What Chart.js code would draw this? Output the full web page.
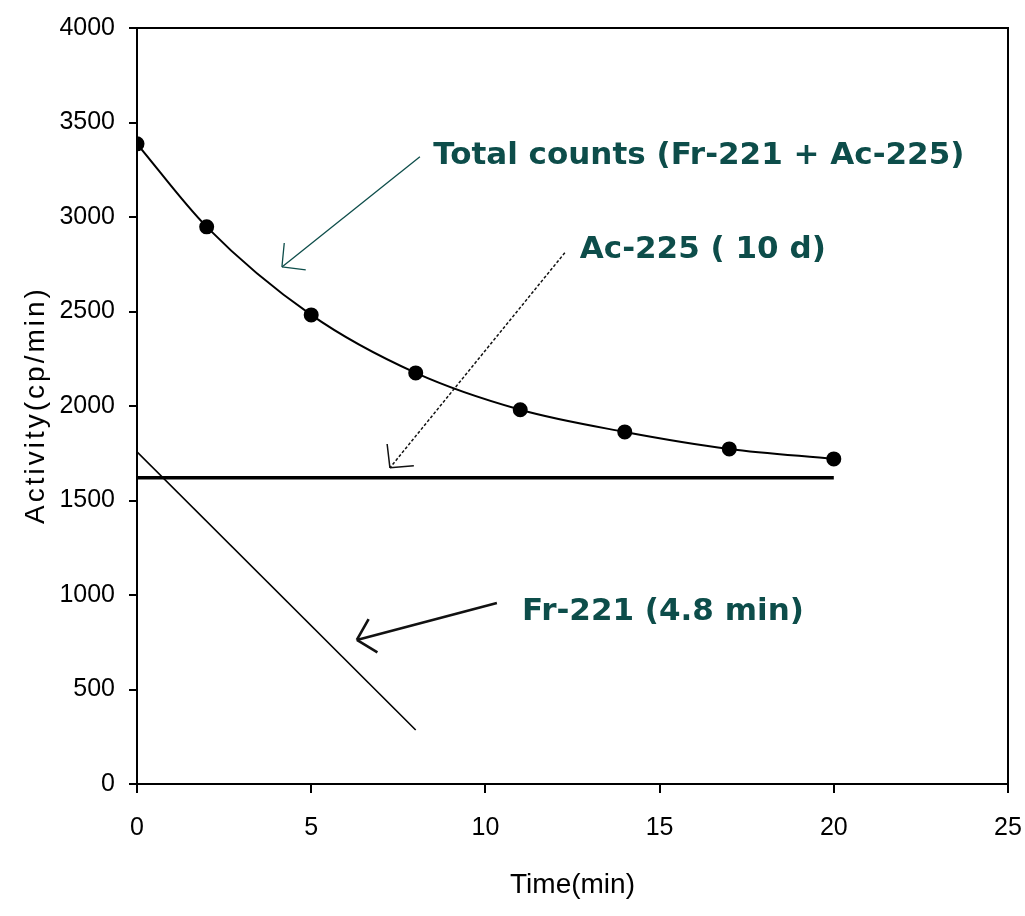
<!DOCTYPE html>
<html>
<head>
<meta charset="utf-8">
<script src="https://cdn.jsdelivr.net/npm/chart.js@4.4.1/dist/chart.umd.min.js"></script>
<style>
  html, body { margin: 0; padding: 0; background: #fff; }
  #wrap { width: 1025px; height: 916px; }
</style>
</head>
<body>
<div id="wrap"><canvas id="chart" width="1025" height="916"></canvas></div>
<script>
// measured points (time in min, activity in cp/min)
const times = [0, 2, 5, 8, 11, 14, 17, 20];
const totalCounts = [3387, 2948, 2482, 2175, 1980, 1863, 1773, 1720];

const acTimes = [0, 20];
const acCounts = [1620, 1620];

const frTimes = [0, 8];
const frCounts = [1757, 286];

const xTicks = [0, 5, 10, 15, 20, 25];
const yTicks = [0, 500, 1000, 1500, 2000, 2500, 3000, 3500, 4000];

const teal = '#0d4d4a';

// callouts, anchored in data units
const notes = [
    { text: 'Total counts (Fr-221 + Ac-225)', at: [8.5, 3324], from: [8.12, 3319], to: [4.16, 2736], color: teal, width: 1.3, dash: [] },
    { text: 'Ac-225 ( 10 d)', at: [12.71, 2826], from: [12.28, 2811], to: [7.26, 1673], color: '#111', width: 1.5, dash: [3, 2] },
    { text: 'Fr-221 (4.8 min)', at: [11.05, 910], from: [10.33, 958], to: [6.31, 762], color: '#111', width: 2.6, dash: [] }
];

const toPoints = (xs, ys) => xs.map((x, i) => ({ x: x, y: ys[i] }));

const tickFont = { family: "'Liberation Sans', Arial, sans-serif", size: 25 };

const calloutPlugin = {
    id: 'callouts',
    afterDatasetsDraw(chart) {
        const { ctx, chartArea, scales } = chart;
        const sx = scales.x, sy = scales.y;

        // frame on top and right
        ctx.save();
        ctx.strokeStyle = '#000';
        ctx.lineWidth = 2;
        ctx.beginPath();
        ctx.moveTo(chartArea.left, chartArea.top);
        ctx.lineTo(chartArea.right, chartArea.top);
        ctx.lineTo(chartArea.right, chartArea.bottom);
        ctx.stroke();
        ctx.restore();

        notes.forEach(n => {
            const x1 = sx.getPixelForValue(n.from[0]), y1 = sy.getPixelForValue(n.from[1]);
            const x2 = sx.getPixelForValue(n.to[0]), y2 = sy.getPixelForValue(n.to[1]);
            const ang = Math.atan2(y1 - y2, x1 - x2);
            ctx.save();
            ctx.strokeStyle = n.color;
            ctx.lineWidth = n.width;
            ctx.setLineDash(n.dash);
            ctx.beginPath();
            ctx.moveTo(x1, y1);
            ctx.lineTo(x2, y2);
            ctx.stroke();
            ctx.setLineDash([]);
            ctx.beginPath();
            [-0.8, 0.8].forEach(d => {
                ctx.moveTo(x2, y2);
                ctx.lineTo(x2 + 24 * Math.cos(ang + d), y2 + 24 * Math.sin(ang + d));
            });
            ctx.stroke();

            ctx.fillStyle = teal;
            ctx.font = "bold 31px 'DejaVu Sans', sans-serif";
            ctx.textAlign = 'left';
            ctx.textBaseline = 'middle';
            ctx.fillText(n.text, sx.getPixelForValue(n.at[0]), sy.getPixelForValue(n.at[1]));
            ctx.restore();
        });

        // y axis title, letter spaced like the original
        ctx.save();
        ctx.fillStyle = '#000';
        ctx.font = "28px 'Liberation Sans', sans-serif";
        ctx.letterSpacing = '3px';
        ctx.textAlign = 'center';
        ctx.textBaseline = 'middle';
        ctx.translate(36, 405);
        ctx.rotate(-Math.PI / 2);
        ctx.fillText('Activity(cp/min)', 0, 0);
        ctx.restore();
    }
};

new Chart(document.getElementById('chart'), {
    type: 'scatter',
    data: {
        datasets: [
            {
                label: 'Total counts',
                data: toPoints(times, totalCounts),
                showLine: true,
                borderColor: '#000',
                borderWidth: 2,
                backgroundColor: '#000',
                pointRadius: 6.5,
                pointStyle: 'circle',
                cubicInterpolationMode: 'monotone'
            },
            {
                label: 'Ac-225',
                data: toPoints(acTimes, acCounts),
                showLine: true,
                borderColor: '#000',
                borderWidth: 3.5,
                pointRadius: 0
            },
            {
                label: 'Fr-221',
                data: toPoints(frTimes, frCounts),
                showLine: true,
                borderColor: '#000',
                borderWidth: 1.6,
                pointRadius: 0
            }
        ]
    },
    options: {
        responsive: false,
        animation: false,
        layout: { padding: { top: 28, right: 17, left: 0, bottom: 0 } },
        plugins: { legend: { display: false }, tooltip: { enabled: false } },
        scales: {
            x: {
                type: 'linear',
                min: 0,
                max: 25,
                afterBuildTicks: s => { s.ticks = xTicks.map(v => ({ value: v })); },
                afterFit: s => { s.height = 132; s.paddingLeft = 0; s.paddingRight = 0; },
                grid: { drawOnChartArea: false, drawTicks: true, tickLength: 9, color: '#000', lineWidth: 2 },
                border: { display: true, color: '#000', width: 2 },
                ticks: { color: '#000', font: tickFont, padding: 20, maxRotation: 0, callback: v => String(v) },
                title: {
                    display: true,
                    text: 'Time(min)',
                    color: '#000',
                    font: { family: "'Liberation Sans', sans-serif", size: 28 },
                    padding: { top: 0, bottom: 14 }
                }
            },
            y: {
                type: 'linear',
                min: 0,
                max: 4000,
                afterBuildTicks: s => { s.ticks = yTicks.map(v => ({ value: v })); },
                afterFit: s => { s.width = 137; s.paddingTop = 0; s.paddingBottom = 0; },
                grid: { drawOnChartArea: false, drawTicks: true, tickLength: 8, color: '#000', lineWidth: 2 },
                border: { display: true, color: '#000', width: 2 },
                ticks: { color: '#000', font: tickFont, padding: 14, callback: v => String(v) }
            }
        }
    },
    plugins: [calloutPlugin]
});
</script>
</body>
</html>
